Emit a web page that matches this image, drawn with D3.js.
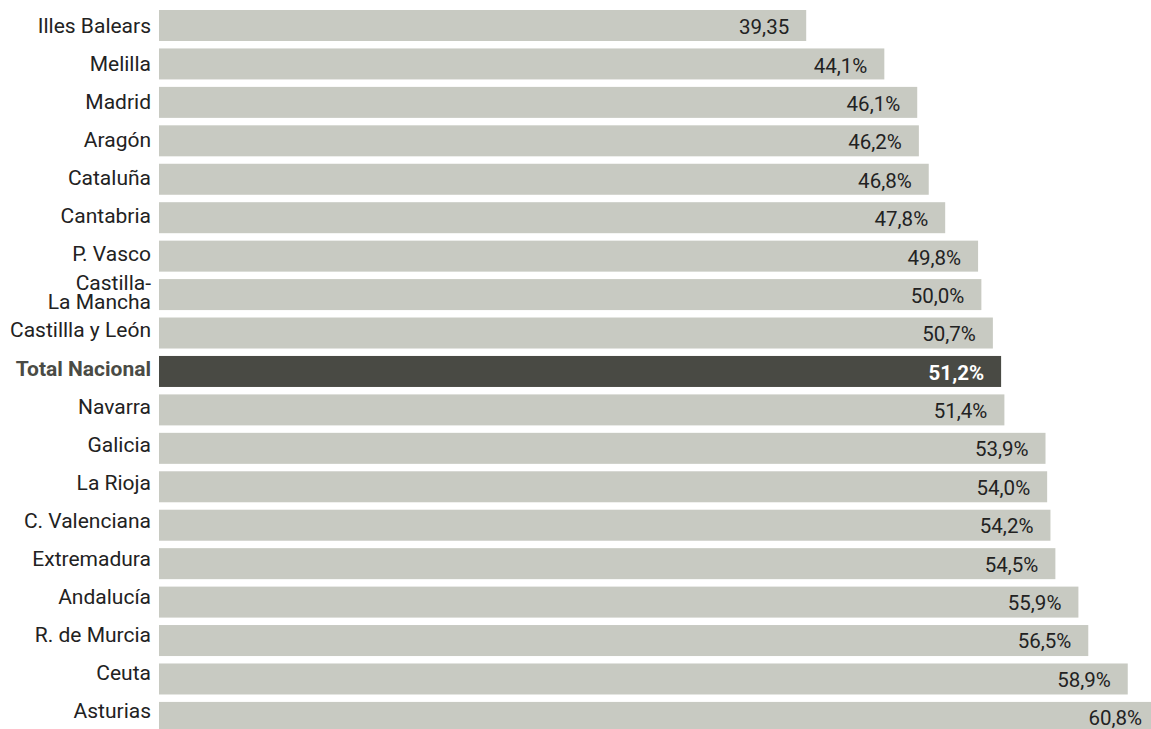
<!DOCTYPE html>
<html>
<head>
<meta charset="utf-8">
<script src="https://cdn.jsdelivr.net/npm/d3@7"></script>
<style>
  html, body { margin: 0; padding: 0; background: #fff; }
  svg { display: block; }
  text { font-family: Roboto, "Noto Sans", sans-serif; }
</style>
</head>
<body>
<svg id="chart" width="1151" height="729"></svg>
<script>
// Share per region, in percent
const regions = [
  "Illes Balears", "Melilla", "Madrid", "Aragón", "Cataluña", "Cantabria",
  "P. Vasco", "Castilla-\nLa Mancha", "Castillla y León", "Total Nacional",
  "Navarra", "Galicia", "La Rioja", "C. Valenciana", "Extremadura",
  "Andalucía", "R. de Murcia", "Ceuta", "Asturias"
];
const values = [
  39.35, 44.1, 46.1, 46.2, 46.8, 47.8, 49.8, 50.0, 50.7, 51.2,
  51.4, 53.9, 54.0, 54.2, 54.5, 55.9, 56.5, 58.9, 60.8
];
const valueLabels = [
  "39,35", "44,1%", "46,1%", "46,2%", "46,8%", "47,8%", "49,8%", "50,0%",
  "50,7%", "51,2%", "51,4%", "53,9%", "54,0%", "54,2%", "54,5%", "55,9%",
  "56,5%", "58,9%", "60,8%"
];
const highlight = "Total Nacional";

const data = regions.map((r, i) => ({ region: r, value: values[i], label: valueLabels[i] }));

const svg = d3.select("#chart");
const marginLeft = 159, marginTop = 10, rowStep = 38.44, barH = 31;
const n = regions.length;

const x = d3.scaleLinear().domain([0, 60.8]).range([marginLeft, 1159]);

// bars: band scale with step rowStep and bandwidth barH
const y = d3.scaleBand()
  .domain(regions)
  .range([marginTop, marginTop + rowStep * (n - 1) + barH])
  .paddingInner((rowStep - barH) / rowStep)
  .paddingOuter(0)
  .align(0);

// category label baselines run on a slightly tighter pitch
const yLabel = d3.scalePoint().domain(regions).range([31.7, 717.3]);
// value label baselines
const yValue = d3.scalePoint().domain(regions).range([34.3, 725]);

const rows = svg.append("g").selectAll("g")
  .data(data).join("g");

rows.append("rect")
  .attr("x", x(0))
  .attr("y", d => y(d.region))
  .attr("width", d => x(d.value) - x(0))
  .attr("height", y.bandwidth())
  .attr("fill", d => d.region === highlight ? "#494a44" : "#c8cac2");

rows.append("text")
  .attr("x", d => x(d.value) - 17)
  .attr("y", d => yValue(d.region))
  .attr("text-anchor", "end")
  .attr("font-size", 20.5)
  .attr("font-weight", d => d.region === highlight ? 700 : 400)
  .attr("fill", d => d.region === highlight ? "#ffffff" : "#222222")
  .text(d => d.label);

const cat = rows.append("text")
  .attr("text-anchor", "end")
  .attr("font-size", 21)
  .attr("font-weight", d => d.region === highlight ? 700 : 400)
  .attr("fill", d => d.region === highlight ? "#4a4b45" : "#222222");

cat.each(function(d) {
  const lines = d.region.split("\n");
  const t = d3.select(this);
  const base = yLabel(d.region);
  const lh = 19;
  lines.forEach((ln, i) => {
    t.append("tspan")
      .attr("x", marginLeft - 8)
      .attr("y", base + (i - (lines.length - 1) / 2) * lh + 1)
      .text(ln);
  });
});
</script>
</body>
</html>
